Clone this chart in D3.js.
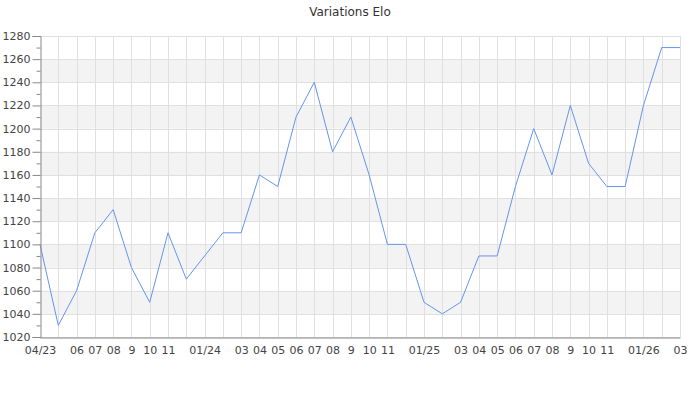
<!DOCTYPE html>
<html>
<head>
<meta charset="utf-8">
<script src="https://cdn.jsdelivr.net/npm/d3@7"></script>
<style>
  body { margin: 0; background: #fff; }
  text { font-family: "DejaVu Sans", sans-serif; }
</style>
</head>
<body>
<div class="chart"></div>
<script>
var title = "Variations Elo";

// one point per month, 04/23 .. 03/26
var elo = [1100, 1030, 1060, 1110, 1130, 1080, 1050, 1110, 1070, 1090, 1110, 1110,
  1160, 1150, 1210, 1240, 1180, 1210, 1160, 1100, 1100, 1050, 1040, 1050,
  1090, 1090, 1150, 1200, 1160, 1220, 1170, 1150, 1150, 1220, 1270, 1270];

var monthLabels = ["04/23", "", "06", "07", "08", "9", "10", "11", "", "01/24", "", "03",
  "04", "05", "06", "07", "08", "9", "10", "11", "", "01/25", "", "03",
  "04", "05", "06", "07", "08", "9", "10", "11", "", "01/26", "", "03"];

var yMin = 1020, yMax = 1280;

var width = 700, height = 400;
var margin = { top: 36, right: 20, bottom: 63, left: 40 };

var svg = d3.select(".chart").append("svg")
  .attr("width", width)
  .attr("height", height);

var x = d3.scaleLinear()
  .domain([0, elo.length - 1])
  .range([margin.left, width - margin.right]);

var y = d3.scaleLinear()
  .domain([yMin, yMax])
  .range([height - margin.bottom, margin.top]);

var yMajor = d3.range(yMin, yMax + 1, 20);
var yMinor = d3.range(yMin + 10, yMax, 20);

// alternate shaded bands
var bands = yMajor.slice(0, -1).filter(function (v) { return ((v - yMin) / 20) % 2 === 1; });
svg.append("g").selectAll("rect").data(bands).enter().append("rect")
  .attr("x", margin.left)
  .attr("width", width - margin.right - margin.left)
  .attr("y", function (d) { return y(d + 20); })
  .attr("height", function (d) { return y(d) - y(d + 20); })
  .attr("fill", "#f3f3f3");

// grid
var grid = svg.append("g").attr("stroke", "#e0e0e0").attr("stroke-width", 1);
grid.selectAll(".h").data(yMajor).enter().append("line")
  .attr("x1", margin.left).attr("x2", width - margin.right)
  .attr("y1", function (d) { return Math.round(y(d)) + 0.5; })
  .attr("y2", function (d) { return Math.round(y(d)) + 0.5; });
grid.selectAll(".v").data(d3.range(1, elo.length)).enter().append("line")
  .attr("y1", margin.top).attr("y2", height - margin.bottom)
  .attr("x1", function (d) { return Math.round(x(d)) + 0.5; })
  .attr("x2", function (d) { return Math.round(x(d)) + 0.5; });

// the line
var line = d3.line()
  .x(function (d, i) { return x(i); })
  .y(function (d) { return y(d); });

svg.append("path")
  .datum(elo)
  .attr("d", line)
  .attr("fill", "none")
  .attr("stroke", "#6495ed")
  .attr("stroke-width", 1);

// y axis
var yAxis = d3.axisLeft(y).tickValues(yMajor).tickSize(8).tickPadding(2).tickFormat(d3.format("d"));
var yg = svg.append("g")
  .attr("transform", "translate(" + (margin.left + 0.5) + ",0)")
  .call(yAxis);
svg.append("g")
  .attr("transform", "translate(" + (margin.left + 0.5) + ",0)")
  .call(d3.axisLeft(y).tickValues(yMinor).tickSize(4).tickFormat(""))
  .select(".domain").remove();

// x axis
var xAxis = d3.axisBottom(x)
  .tickValues(d3.range(elo.length))
  .tickSize(0).tickPadding(9)
  .tickFormat(function (d) { return monthLabels[d]; });
var xg = svg.append("g")
  .attr("transform", "translate(0," + (height - margin.bottom + 0.5) + ")")
  .call(xAxis);

svg.selectAll(".domain, .tick line").attr("stroke", "#888");
svg.selectAll(".tick text").attr("fill", "#444").style("font-size", "11px");

svg.append("text")
  .attr("x", width / 2)
  .attr("y", 16)
  .attr("text-anchor", "middle")
  .attr("fill", "#333")
  .style("font-size", "12px")
  .text(title);
</script>
</body>
</html>
